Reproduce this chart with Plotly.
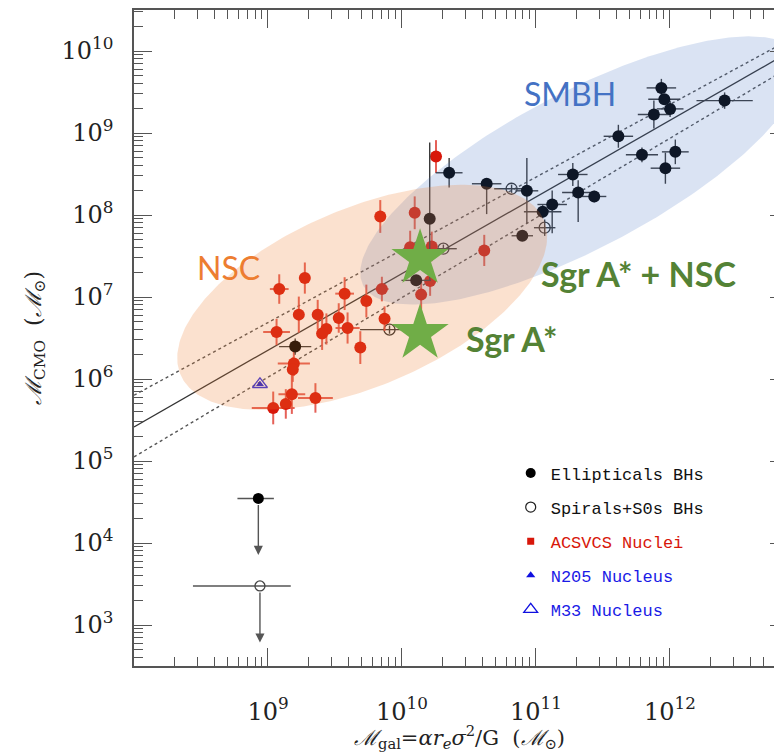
import numpy as np
import plotly.graph_objects as go

# ---------------- data: log10 masses ----------------
# Ellipticals BHs (filled black)
ell_lgal = [11.936, 11.958, 12.001, 11.880, 12.408, 11.615, 11.791, 12.040, 11.966, 11.275,
            11.315, 11.435, 11.050, 11.121, 10.932, 10.632, 10.352, 10.207, 10.898, 10.106, 9.203]
ell_lcmo = [9.550, 9.411, 9.294, 9.225, 9.395, 8.960, 8.734, 8.770, 8.571, 8.494,
            8.275, 8.226, 8.040, 8.128, 8.295, 8.381, 8.515, 7.954, 7.747, 7.203, 6.395]
ell_ex = [.11, .12, .10, .12, .21, .11, .12, .10, .11, .11, .12, .09, .14, .11, .085, .11, .10, .03, .08, .11, .12]
ell_ey_up = [.11, .05, .10, .17, .10, .14, .09, .15, .19, .14, .15, .07, .08, .17, .40, .04, .18, .93, .05, .05, .10]
ell_ey_dn = [.11, .05, .10, .17, .10, .14, .09, .15, .19, .14, .36, .07, .08, .35, .40, .37, .18, .75, .05, .05, .10]

# Spirals + S0s BHs (open circles)
sp_lgal = [10.818, 11.065, 10.309, 9.907]
sp_lcmo = [8.320, 7.845, 7.589, 6.602]
sp_ex_up = [.13, .08, .10, .13]
sp_ex_dn = [.13, .08, .10, .22]
sp_ey = [.05, .10, .05, .05]

# upper limits (filled, open)
ul_lgal = [8.928, 8.940]
ul_lcmo = [4.544, 3.476]
ul_ex_up = [.116, .23]
ul_ex_dn = [.156, .50]
ul_arrow_dex = 0.69

# ACSVCS nuclei (red)
acs_lgal = [10.061, 10.222, 10.614, 10.210, 10.143, 9.850, 9.734, 9.870, 9.572, 9.528,
            9.594, 9.689, 9.436, 9.404, 9.371, 9.230, 9.275, 9.084, 9.064, 9.193,
            9.185, 9.178, 9.133, 9.039, 9.354, 10.254, 9.838, 10.095]
acs_lcmo = [7.608, 7.617, 7.568, 7.194, 7.029, 7.097, 6.951, 6.736, 7.041, 6.744,
            6.622, 6.383, 6.610, 6.554, 6.785, 6.785, 7.231, 7.097, 6.573, 6.188,
            6.115, 5.814, 5.696, 5.647, 5.769, 8.713, 7.982, 8.027]
acs_ex = [0, 0, 0, 0, 0, .05, 0, 0, .07, 0, .09, 0, 0, 0, 0, 0, 0, .07, .10, .12,
          0, .10, 0, .16, .13, 0, 0, 0]
acs_ey = [.20, .18, .19, .18, .18, .15, .20, .15, .20, .18, .19, .20, .19, .20, .18, .22,
          .19, .18, .16, .15, .15, .24, .18, .20, .18, .20, .20, .20]

# N205 and M33 nuclei
n205_lgal, n205_lcmo = [8.940], [5.936]
m33_lgal, m33_lcmo = [8.940], [5.936]

# Sgr A* and Sgr A* + NSC
sgr_lgal = [10.135, 10.135]
sgr_lcmo = [6.557, 7.471]

# fit line and its bands (log values at the axis ends)
fit_lgal = [8.0, 12.9]
fit_mid = [5.416, 9.996]
fit_hi = [5.802, 10.146]
fit_lo = [5.050, 9.810]

# regions (log space: centre, half-axis vectors)
nsc_c, nsc_u, nsc_v = (9.703, 6.996), (1.356, 0.942), (-0.2587, 0.998)
smbh_c, smbh_u, smbh_v = (11.337, 8.543), (1.626, 1.403), (-0.2707, 0.8404)

x_tickvals = [1e9, 1e10, 1e11, 1e12]
x_ticktext = ['10<sup>9</sup>', '10<sup>10</sup>', '10<sup>11</sup>', '10<sup>12</sup>']
y_tickvals = [1e3, 1e4, 1e5, 1e6, 1e7, 1e8, 1e9, 1e10]
y_ticktext = ['10<sup>%d</sup>' % k for k in range(3, 11)]

x_title = '<i>ℳ</i><sub>gal</sub>=<i>αr<sub>e</sub>σ</i><sup>2</sup>/G\u00a0\u00a0(<i>ℳ</i><sub>⊙</sub>)'
y_title = '<i>ℳ</i><sub>CMO</sub>\u00a0\u00a0(<i>ℳ</i><sub>⊙</sub>)'


def lin(a):
    return [10 ** v for v in a]


def eplus(vals, e):
    return [10 ** (v + d) - 10 ** v for v, d in zip(vals, e)]


def eminus(vals, e):
    return [10 ** v - 10 ** (v - d) for v, d in zip(vals, e)]


def ellipse(c, u, v, n=300):
    t = np.linspace(0, 2 * np.pi, n)
    lx = c[0] + u[0] * np.cos(t) + v[0] * np.sin(t)
    ly = c[1] + u[1] * np.cos(t) + v[1] * np.sin(t)
    return 10 ** lx, 10 ** ly


fig = go.Figure()

# fit lines
fig.add_trace(go.Scatter(x=lin(fit_lgal), y=lin(fit_mid), mode='lines',
                         line=dict(color='#333333', width=1.3), showlegend=False, hoverinfo='skip'))
for band in (fit_hi, fit_lo):
    fig.add_trace(go.Scatter(x=lin(fit_lgal), y=lin(band), mode='lines',
                             line=dict(color='#555555', width=1.4, dash='dot'), showlegend=False,
                             hoverinfo='skip'))

BLK_ERR = '#3a3a3a'
# upper limits
fig.add_trace(go.Scatter(x=lin(ul_lgal[:1]), y=lin(ul_lcmo[:1]), mode='markers',
                         marker=dict(symbol='circle', size=11, color='black'),
                         error_x=dict(type='data', symmetric=False, array=eplus(ul_lgal[:1], ul_ex_up[:1]),
                                      arrayminus=eminus(ul_lgal[:1], ul_ex_dn[:1]),
                                      color='#555', thickness=1.5, width=0),
                         showlegend=False))
fig.add_trace(go.Scatter(x=lin(ul_lgal[1:]), y=lin(ul_lcmo[1:]), mode='markers',
                         marker=dict(symbol='circle-open', size=10, color='#444', line=dict(width=1.3)),
                         error_x=dict(type='data', symmetric=False, array=eplus(ul_lgal[1:], ul_ex_up[1:]),
                                      arrayminus=eminus(ul_lgal[1:], ul_ex_dn[1:]),
                                      color='#555', thickness=1.5, width=0),
                         showlegend=False))

# spirals
fig.add_trace(go.Scatter(x=lin(sp_lgal), y=lin(sp_lcmo), mode='markers',
                         marker=dict(symbol='circle-open', size=11, color='#333', line=dict(width=1.3)),
                         error_x=dict(type='data', symmetric=False, array=eplus(sp_lgal, sp_ex_up),
                                      arrayminus=eminus(sp_lgal, sp_ex_dn), color=BLK_ERR, thickness=1.4, width=0),
                         error_y=dict(type='data', symmetric=False, array=eplus(sp_lcmo, sp_ey),
                                      arrayminus=eminus(sp_lcmo, sp_ey), color=BLK_ERR, thickness=1.4, width=0),
                         showlegend=False))

# ACSVCS nuclei
fig.add_trace(go.Scatter(x=lin(acs_lgal), y=lin(acs_lcmo), mode='markers',
                         marker=dict(symbol='circle', size=12, color='#d8170a'),
                         error_x=dict(type='data', symmetric=False, array=eplus(acs_lgal, acs_ex),
                                      arrayminus=eminus(acs_lgal, acs_ex), color='rgba(226,80,70,0.9)',
                                      thickness=2, width=0),
                         error_y=dict(type='data', symmetric=False, array=eplus(acs_lcmo, acs_ey),
                                      arrayminus=eminus(acs_lcmo, acs_ey), color='rgba(226,80,70,0.9)',
                                      thickness=2, width=0),
                         showlegend=False))

# ellipticals
fig.add_trace(go.Scatter(x=lin(ell_lgal), y=lin(ell_lcmo), mode='markers',
                         marker=dict(symbol='circle', size=12, color='black'),
                         error_x=dict(type='data', symmetric=False, array=eplus(ell_lgal, ell_ex),
                                      arrayminus=eminus(ell_lgal, ell_ex), color=BLK_ERR, thickness=1.4, width=0),
                         error_y=dict(type='data', symmetric=False, array=eplus(ell_lcmo, ell_ey_up),
                                      arrayminus=eminus(ell_lcmo, ell_ey_dn), color=BLK_ERR, thickness=1.4,
                                      width=0),
                         showlegend=False))

# N205 / M33
fig.add_trace(go.Scatter(x=lin(n205_lgal), y=lin(n205_lcmo), mode='markers',
                         marker=dict(symbol='triangle-up', size=7, color='#2020d0'), showlegend=False))
fig.add_trace(go.Scatter(x=lin(m33_lgal), y=lin(m33_lcmo), mode='markers',
                         marker=dict(symbol='triangle-up-open', size=13, color='#3030e0', line=dict(width=1.3)),
                         showlegend=False))

# regions (drawn over the points)
ex_, ey_ = ellipse(smbh_c, smbh_u, smbh_v)
fig.add_trace(go.Scatter(x=ex_, y=ey_, mode='lines', fill='toself', fillcolor='rgba(68,114,196,0.2)',
                         line=dict(width=0), showlegend=False, hoverinfo='skip'))
ex_, ey_ = ellipse(nsc_c, nsc_u, nsc_v)
fig.add_trace(go.Scatter(x=ex_, y=ey_, mode='lines', fill='toself', fillcolor='rgba(237,125,49,0.23)',
                         line=dict(width=0), showlegend=False, hoverinfo='skip'))

# Sgr A* stars
fig.add_trace(go.Scatter(x=lin(sgr_lgal), y=lin(sgr_lcmo), mode='markers',
                         marker=dict(symbol='star', size=43, color='#70ad47', line=dict(width=0)),
                         showlegend=False))

# legend entries
leg = [
    ('Ellipticals BHs', dict(symbol='circle', size=10, color='black'), '#111111'),
    ('Spirals+S0s BHs', dict(symbol='circle-open', size=10, color='#222', line=dict(width=1.2)), '#111111'),
    ('ACSVCS Nuclei', dict(symbol='square', size=7, color='#d8170a'), '#d8170a'),
    ('N205 Nucleus', dict(symbol='triangle-up', size=8, color='#1010e0'), '#1a1ae6'),
    ('M33 Nucleus', dict(symbol='triangle-up-open', size=12, color='#1010e0', line=dict(width=1.3)), '#1a1ae6'),
]
for i, (name, mk, col) in enumerate(leg):
    fig.add_trace(go.Scatter(x=[None], y=[None], mode='markers', marker=mk,
                             name="<span style='color:%s'>%s</span>" % (col, name),
                             legendgroup='g%d' % i, showlegend=True))

ann = []
for lx, ly in zip(ul_lgal, ul_lcmo):
    ann.append(dict(x=lx, y=ly - ul_arrow_dex, ax=lx, ay=ly, xref='x', yref='y', axref='x', ayref='y',
                    text='', showarrow=True, arrowhead=2, arrowsize=1.3, arrowwidth=1.4, arrowcolor='#555',
                    startstandoff=5))

labels = [
    ('SMBH', 11.251, 9.481, '#4472c4', False, 32),
    ('NSC', 8.707, 7.361, '#ed7d31', False, 32),
    ('Sgr A* + NSC', 11.765, 7.288, '#548235', True, 34),
    ('Sgr A*', 10.820, 6.496, '#548235', True, 34),
]
for txt, lx, ly, col, bold, sz in labels:
    ann.append(dict(x=lx, y=ly, xref='x', yref='y', text='<b>%s</b>' % txt if bold else txt,
                    showarrow=False, font=dict(family='Lato', size=sz, color=col)))

# x-axis title as a paper annotation
ann.append(dict(x=0.498, y=-0.108, xref='paper', yref='paper', text=x_title, showarrow=False,
                xanchor='center', yanchor='middle', font=dict(family='DejaVu Serif', size=21, color='#222')))

fig.update_layout(
    width=782, height=752,
    margin=dict(l=126, r=0, t=1, b=94),
    paper_bgcolor='white', plot_bgcolor='white',
    annotations=ann,
    legend=dict(x=0.576, y=0.321, xanchor='left', yanchor='top',
                bgcolor='rgba(0,0,0,0)', font=dict(family='Liberation Mono', size=17, color='#111'),
                tracegroupgap=9, itemwidth=30, traceorder='grouped'),
)

axis_common = dict(type='log', showgrid=False, zeroline=False, ticks='inside', ticklen=18, tickwidth=1.3,
                   tickcolor='#555', showline=True, linecolor='#555', linewidth=1.5, mirror='ticks',
                   minor=dict(ticks='inside', ticklen=9, tickwidth=1.2, tickcolor='#555', dtick='D1',
                              showgrid=False),
                   tickfont=dict(family='DejaVu Serif', size=24, color='#222'))

fig.update_xaxes(**axis_common, range=[8, 12.881], tickmode='array', tickvals=x_tickvals, ticktext=x_ticktext,
                 ticklabelstandoff=23)
fig.update_yaxes(**axis_common, range=[2.5, 10.5], tickmode='array', tickvals=y_tickvals, ticktext=y_ticktext,
                 ticklabelstandoff=14,
                 title=dict(text=y_title, font=dict(family='DejaVu Serif', size=22, color='#222'), standoff=14))

fig.write_html('out.html')
